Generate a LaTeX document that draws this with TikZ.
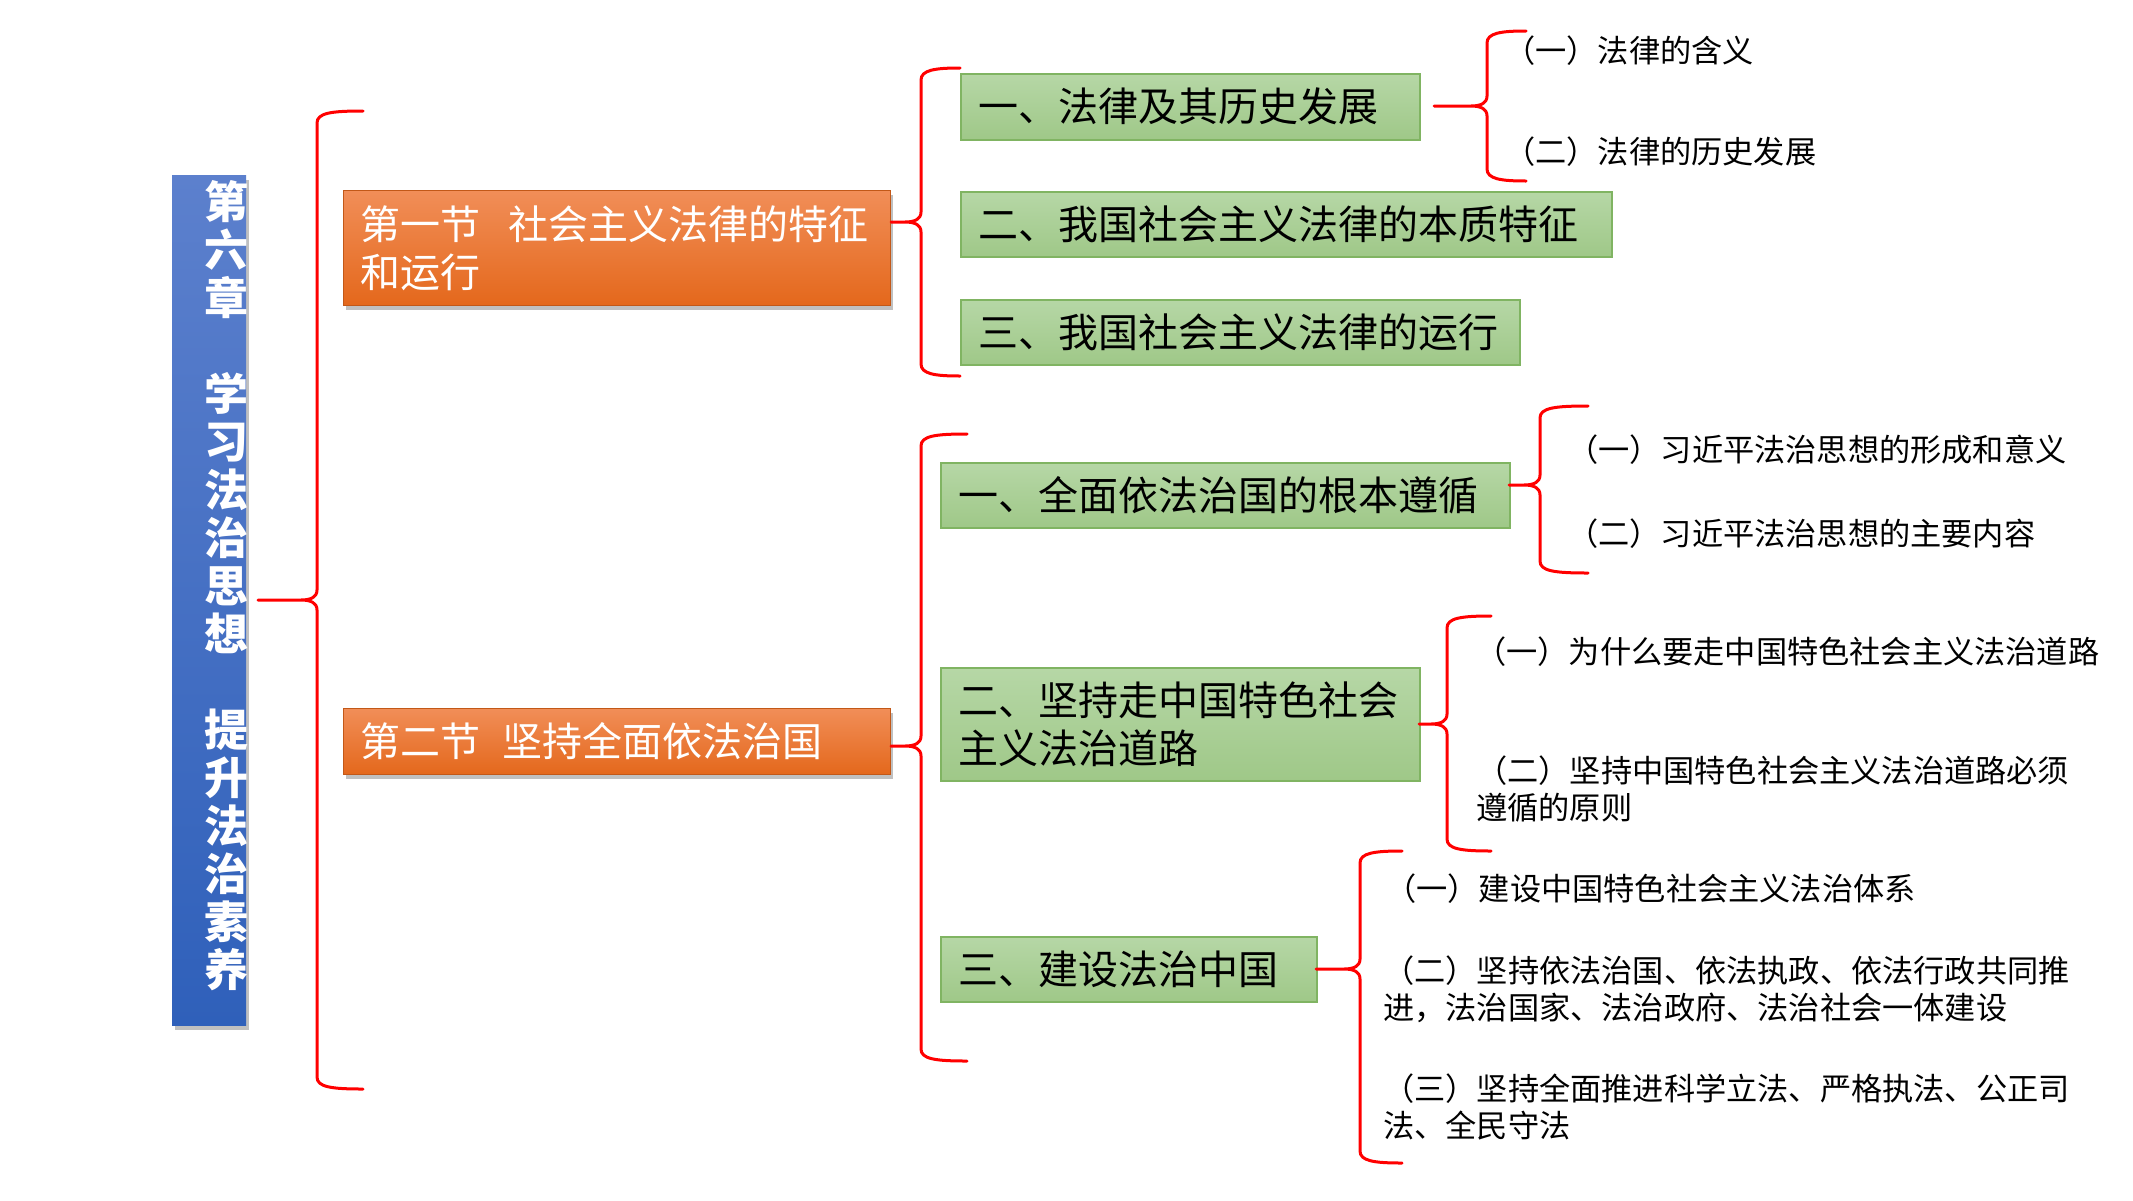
\documentclass[tikz,border=0pt]{standalone}
\usepackage{fontspec}
\setmainfont{Noto Sans CJK SC}
\usetikzlibrary{shadows}
\definecolor{btop}{RGB}{92,128,205}
\definecolor{bbot}{RGB}{47,96,186}
\definecolor{otop}{RGB}{241,142,88}
\definecolor{obot}{RGB}{228,104,28}
\definecolor{gtop}{RGB}{182,215,166}
\definecolor{gbot}{RGB}{159,200,136}
\definecolor{gborder}{RGB}{128,180,98}
\definecolor{bracered}{RGB}{255,0,0}
\newcommand\redbrace[6]{%
  \draw[bracestyle] (#5,#2) .. controls (#1+14,#2) and (#1,#2+2) .. (#1,#2+12)
    -- (#1,#3-10) .. controls (#1,#3-3) and (#1-6,#3) .. (#1-16,#3) -- (#6,#3)
    -- (#1-16,#3) .. controls (#1-6,#3) and (#1,#3+3) .. (#1,#3+10)
    -- (#1,#4-12) .. controls (#1,#4-2) and (#1+14,#4) .. (#5,#4);}
\begin{document}
\begin{tikzpicture}[x=1pt,y=-1pt,
  bracestyle/.style={draw=bracered, line width=3pt, line join=round, line cap=round},
  greenbox/.style={draw=gborder, line width=1.5pt, top color=gtop, bottom color=gbot,
    anchor=north west, inner xsep=18pt, inner ysep=0pt, align=left,
    font=\fontsize{40}{48}\selectfont},
  orangebox/.style={draw=obot!85!black, line width=0.6pt, top color=otop, bottom color=obot,
    drop shadow={shadow xshift=3pt, shadow yshift=-5pt, opacity=0.35, fill=black!70},
    text=white, anchor=north west, inner xsep=17pt, inner ysep=0pt, align=left,
    font=\fontsize{40}{48}\selectfont},
  bluebar/.style={draw=none, top color=btop, bottom color=bbot, anchor=north west,
    drop shadow={shadow xshift=3pt, shadow yshift=-5pt, opacity=0.35, fill=black!70}},
  subitem/.style={anchor=west, inner sep=0pt, align=left, text=black,
    font=\fontsize{31.2}{37}\selectfont}
]
\useasboundingbox (0,0) rectangle (2133,1200);
\fill[white] (0,0) rectangle (2133,1200);

% chapter bar
\node[bluebar, minimum width=74pt, minimum height=850pt] (bar) at (172,175) {};
\node[text=white, inner sep=0pt, align=center, font=\fontsize{44}{48}\selectfont\bfseries] (title) at (226,586)
  {第\\六\\章\\\mbox{}\\学\\习\\法\\治\\思\\想\\\mbox{}\\提\\升\\法\\治\\素\\养};

% sections
\node[orangebox, minimum width=547pt, minimum height=115pt, text width=513pt] (o1) at (343,190)
  {第一节\hspace{0.7em}社会主义法律的特征\\和运行};
\node[orangebox, minimum width=547pt, minimum height=66pt, text width=513pt] (o2) at (343,708)
  {第二节\hspace{0.55em}坚持全面依法治国};

% topics
\node[greenbox, minimum width=459pt, minimum height=66pt, text width=423pt] (g1) at (960,73) {一、法律及其历史发展};
\node[greenbox, minimum width=651pt, minimum height=65pt, text width=615pt] (g2) at (960,191) {二、我国社会主义法律的本质特征};
\node[greenbox, minimum width=559pt, minimum height=65pt, text width=523pt] (g3) at (960,299) {三、我国社会主义法律的运行};
\node[greenbox, minimum width=569pt, minimum height=65pt, text width=533pt] (g4) at (940,462) {一、全面依法治国的根本遵循};
\node[greenbox, minimum width=479pt, minimum height=113pt, text width=443pt] (g5) at (940,667) {二、坚持走中国特色社会\\主义法治道路};
\node[greenbox, minimum width=376pt, minimum height=65pt, text width=340pt] (g6) at (940,936) {三、建设法治中国};

% sub items
\node[subitem] (s11) at (1504,51) {（一）法律的含义};
\node[subitem] (s12) at (1504,152) {（二）法律的历史发展};
\node[subitem] (s21) at (1567,450) {（一）习近平法治思想的形成和意义};
\node[subitem] (s22) at (1567,534) {（二）习近平法治思想的主要内容};
\node[subitem] (s31) at (1475,652) {（一）为什么要走中国特色社会主义法治道路};
\node[subitem] (s32) at (1476,789) {（二）坚持中国特色社会主义法治道路必须\\遵循的原则};
\node[subitem] (s41) at (1385,889) {（一）建设中国特色社会主义法治体系};
\node[subitem] (s42) at (1383,989) {（二）坚持依法治国、依法执政、依法行政共同推\\进，法治国家、法治政府、法治社会一体建设};
\node[subitem] (s43) at (1383,1107) {（三）坚持全面推进科学立法、严格执法、公正司\\法、全民守法};

% braces
\redbrace{317}{111}{600}{1089}{363}{258}
\redbrace{921}{68}{222}{376}{960}{891}
\redbrace{921}{434}{746}{1061}{967}{891}
\redbrace{1487}{31}{106}{181}{1526}{1434}
\redbrace{1540}{406}{485}{573}{1588}{1509}
\redbrace{1447}{616}{724}{851}{1491}{1419}
\redbrace{1360}{851}{969}{1163}{1402}{1316}
\end{tikzpicture}
\end{document}
